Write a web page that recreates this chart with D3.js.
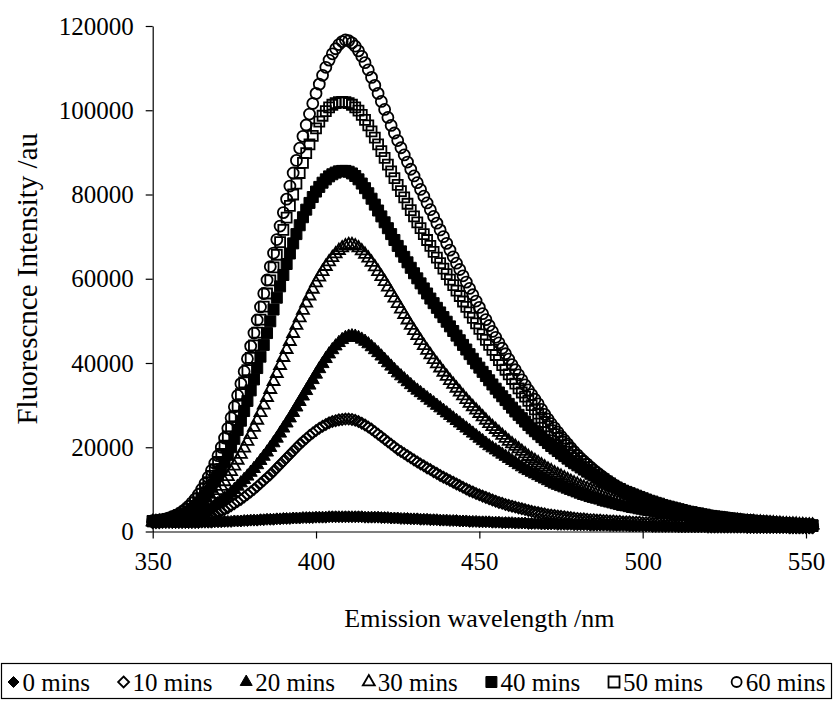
<!DOCTYPE html>
<html>
<head>
<meta charset="utf-8">
<script src="https://cdn.jsdelivr.net/npm/d3@7"></script>
<style>
  html, body { margin: 0; padding: 0; background: #fff; }
  svg { display: block; font-family: "Liberation Serif", "Times New Roman", serif; }
</style>
</head>
<body>
<div id="chart"></div>
<script>
// ── DATA ─────────────────────────────────────
// emission scans, 1 nm steps from 350 to 552 nm
const wavelengths = d3.range(350, 553);

// intensities in thousands of au, one value per nm
const int0 = [
  2.4, 2.3, 2.3, 2.2, 2.2, 2.2, 2.1, 2.1, 2.1, 2.1,
  2.1, 2.1, 2.1, 2.1, 2.1, 2.2, 2.2, 2.2, 2.2, 2.3,
  2.3, 2.3, 2.4, 2.4, 2.4, 2.5, 2.5, 2.5, 2.6, 2.6,
  2.7, 2.7, 2.7, 2.8, 2.8, 2.9, 2.9, 2.9, 3.0, 3.0,
  3.1, 3.1, 3.1, 3.2, 3.2, 3.2, 3.3, 3.3, 3.3, 3.3,
  3.4, 3.4, 3.4, 3.4, 3.5, 3.5, 3.5, 3.5, 3.5, 3.5,
  3.5, 3.5, 3.5, 3.5, 3.5, 3.4, 3.4, 3.4, 3.4, 3.4,
  3.3, 3.3, 3.3, 3.2, 3.2, 3.2, 3.1, 3.1, 3.1, 3.0,
  3.0, 3.0, 2.9, 2.9, 2.9, 2.8, 2.8, 2.8, 2.7, 2.7,
  2.7, 2.6, 2.6, 2.6, 2.5, 2.5, 2.5, 2.4, 2.4, 2.4,
  2.3, 2.3, 2.3, 2.3, 2.2, 2.2, 2.2, 2.1, 2.1, 2.1,
  2.1, 2.0, 2.0, 2.0, 2.0, 1.9, 1.9, 1.9, 1.9, 1.8,
  1.8, 1.8, 1.8, 1.8, 1.7, 1.7, 1.7, 1.7, 1.7, 1.6,
  1.6, 1.6, 1.6, 1.6, 1.5, 1.5, 1.5, 1.5, 1.5, 1.5,
  1.4, 1.4, 1.4, 1.4, 1.4, 1.4, 1.3, 1.3, 1.3, 1.3,
  1.3, 1.3, 1.3, 1.2, 1.2, 1.2, 1.2, 1.2, 1.2, 1.2,
  1.2, 1.1, 1.1, 1.1, 1.1, 1.1, 1.1, 1.1, 1.1, 1.1,
  1.0, 1.0, 1.0, 1.0, 1.0, 1.0, 1.0, 1.0, 1.0, 1.0,
  1.0, 1.0, 0.9, 0.9, 0.9, 0.9, 0.9, 0.9, 0.9, 0.9,
  0.9, 0.9, 0.9, 0.9, 0.9, 0.8, 0.8, 0.8, 0.8, 0.8,
  0.8, 0.8, 0.8
];

const int10 = [
  2.1, 2.1, 2.1, 2.2, 2.2, 2.2, 2.3, 2.3, 2.4, 2.4,
  2.5, 2.6, 2.7, 2.8, 2.9, 3.1, 3.3, 3.5, 3.8, 4.1,
  4.4, 4.8, 5.2, 5.6, 6.1, 6.6, 7.1, 7.6, 8.2, 8.8,
  9.4, 10.0, 10.7, 11.4, 12.1, 12.8, 13.5, 14.3, 15.1, 15.9,
  16.7, 17.5, 18.3, 19.1, 19.9, 20.7, 21.4, 22.1, 22.8, 23.4,
  24.0, 24.5, 25.0, 25.4, 25.8, 26.1, 26.3, 26.5, 26.6, 26.7,
  26.7, 26.6, 26.4, 26.1, 25.7, 25.3, 24.8, 24.3, 23.7, 23.1,
  22.5, 21.9, 21.3, 20.7, 20.1, 19.5, 19.0, 18.5, 18.0, 17.5,
  17.0, 16.5, 16.0, 15.6, 15.1, 14.7, 14.2, 13.8, 13.3, 12.9,
  12.5, 12.1, 11.7, 11.3, 10.9, 10.5, 10.1, 9.7, 9.4, 9.0,
  8.7, 8.4, 8.1, 7.8, 7.5, 7.2, 6.9, 6.7, 6.4, 6.2,
  6.0, 5.8, 5.6, 5.4, 5.2, 5.0, 4.8, 4.6, 4.5, 4.3,
  4.2, 4.0, 3.9, 3.8, 3.7, 3.6, 3.5, 3.4, 3.3, 3.2,
  3.1, 3.0, 3.0, 2.9, 2.8, 2.8, 2.7, 2.7, 2.6, 2.6,
  2.5, 2.5, 2.4, 2.4, 2.3, 2.3, 2.3, 2.2, 2.2, 2.2,
  2.1, 2.1, 2.1, 2.0, 2.0, 2.0, 1.9, 1.9, 1.9, 1.9,
  1.8, 1.8, 1.8, 1.8, 1.7, 1.7, 1.7, 1.7, 1.6, 1.6,
  1.6, 1.6, 1.6, 1.5, 1.5, 1.5, 1.5, 1.5, 1.4, 1.4,
  1.4, 1.4, 1.4, 1.4, 1.3, 1.3, 1.3, 1.3, 1.3, 1.3,
  1.3, 1.2, 1.2, 1.2, 1.2, 1.2, 1.2, 1.2, 1.2, 1.1,
  1.1, 1.1, 1.1
];

const int20 = [
  2.2, 2.2, 2.3, 2.3, 2.4, 2.4, 2.5, 2.6, 2.7, 2.8,
  3.0, 3.2, 3.4, 3.7, 4.0, 4.3, 4.7, 5.1, 5.6, 6.1,
  6.6, 7.2, 7.8, 8.5, 9.2, 9.9, 10.7, 11.5, 12.3, 13.1,
  14.0, 14.9, 15.8, 16.8, 17.8, 18.8, 19.9, 21.0, 22.1, 23.3,
  24.5, 25.7, 26.9, 28.2, 29.5, 30.8, 32.1, 33.4, 34.7, 36.0,
  37.3, 38.6, 39.8, 41.0, 42.1, 43.1, 44.0, 44.8, 45.5, 46.0,
  46.3, 46.4, 46.3, 46.0, 45.6, 45.1, 44.5, 43.8, 43.1, 42.4,
  41.6, 40.8, 40.0, 39.2, 38.4, 37.6, 36.9, 36.2, 35.5, 34.8,
  34.1, 33.5, 32.9, 32.3, 31.7, 31.1, 30.5, 29.9, 29.3, 28.7,
  28.1, 27.5, 26.9, 26.3, 25.7, 25.1, 24.5, 23.9, 23.3, 22.7,
  22.1, 21.5, 20.9, 20.3, 19.8, 19.3, 18.8, 18.3, 17.8, 17.3,
  16.8, 16.3, 15.8, 15.3, 14.8, 14.4, 14.0, 13.6, 13.2, 12.8,
  12.4, 12.0, 11.6, 11.2, 10.9, 10.6, 10.3, 10.0, 9.7, 9.4,
  9.1, 8.8, 8.5, 8.3, 8.0, 7.8, 7.6, 7.4, 7.1, 6.9,
  6.7, 6.5, 6.3, 6.1, 5.9, 5.8, 5.6, 5.4, 5.3, 5.1,
  5.0, 4.8, 4.7, 4.6, 4.4, 4.3, 4.2, 4.1, 4.0, 3.9,
  3.8, 3.7, 3.6, 3.5, 3.4, 3.3, 3.3, 3.2, 3.1, 3.0,
  3.0, 2.9, 2.8, 2.8, 2.7, 2.7, 2.6, 2.5, 2.5, 2.4,
  2.4, 2.3, 2.3, 2.2, 2.2, 2.1, 2.1, 2.0, 2.0, 2.0,
  1.9, 1.9, 1.8, 1.8, 1.8, 1.7, 1.7, 1.6, 1.6, 1.6,
  1.5, 1.5, 1.5
];

const int30 = [
  2.3, 2.3, 2.4, 2.4, 2.5, 2.6, 2.7, 2.9, 3.1, 3.3,
  3.6, 3.9, 4.3, 4.7, 5.2, 5.8, 6.4, 7.1, 7.9, 8.8,
  9.7, 10.7, 11.8, 13.0, 14.2, 15.5, 16.9, 18.3, 19.8, 21.4,
  23.0, 24.7, 26.4, 28.2, 30.0, 31.8, 33.7, 35.6, 37.5, 39.4,
  41.3, 43.2, 45.1, 47.0, 48.9, 50.7, 52.5, 54.2, 55.9, 57.5,
  59.0, 60.4, 61.7, 62.9, 64.0, 65.0, 65.9, 66.7, 67.3, 67.8,
  68.1, 68.1, 67.8, 67.3, 66.6, 65.8, 64.9, 63.9, 62.8, 61.7,
  60.5, 59.3, 58.0, 56.7, 55.4, 54.1, 52.8, 51.5, 50.2, 48.9,
  47.7, 46.5, 45.3, 44.1, 43.0, 41.9, 40.8, 39.8, 38.8, 37.8,
  36.8, 35.8, 34.9, 34.0, 33.1, 32.2, 31.3, 30.4, 29.6, 28.8,
  28.0, 27.2, 26.4, 25.6, 24.9, 24.2, 23.5, 22.8, 22.1, 21.4,
  20.8, 20.2, 19.6, 19.0, 18.4, 17.8, 17.3, 16.8, 16.3, 15.8,
  15.3, 14.8, 14.4, 13.9, 13.5, 13.1, 12.7, 12.3, 11.9, 11.5,
  11.2, 10.8, 10.5, 10.2, 9.9, 9.6, 9.3, 9.0, 8.7, 8.4,
  8.2, 7.9, 7.7, 7.4, 7.2, 7.0, 6.8, 6.6, 6.4, 6.2,
  6.0, 5.8, 5.6, 5.5, 5.3, 5.1, 5.0, 4.8, 4.7, 4.5,
  4.4, 4.3, 4.1, 4.0, 3.9, 3.8, 3.7, 3.6, 3.5, 3.4,
  3.3, 3.2, 3.1, 3.0, 2.9, 2.9, 2.8, 2.7, 2.6, 2.6,
  2.5, 2.4, 2.4, 2.3, 2.3, 2.2, 2.2, 2.1, 2.1, 2.0,
  2.0, 1.9, 1.9, 1.8, 1.8, 1.7, 1.7, 1.7, 1.6, 1.6,
  1.5, 1.5, 1.5
];

const int40 = [
  2.4, 2.4, 2.5, 2.6, 2.7, 2.8, 3.0, 3.2, 3.5, 3.8,
  4.2, 4.7, 5.2, 5.9, 6.6, 7.4, 8.4, 9.4, 10.6, 11.9,
  13.3, 14.8, 16.4, 18.2, 20.0, 22.0, 24.1, 26.3, 28.6, 31.0,
  33.5, 36.1, 38.8, 41.5, 44.3, 47.1, 49.9, 52.7, 55.5, 58.2,
  60.9, 63.5, 66.0, 68.4, 70.6, 72.7, 74.6, 76.4, 78.0, 79.4,
  80.7, 81.8, 82.8, 83.6, 84.3, 84.8, 85.2, 85.5, 85.6, 85.6,
  85.4, 85.0, 84.4, 83.6, 82.6, 81.5, 80.3, 79.0, 77.6, 76.2,
  74.8, 73.4, 72.0, 70.6, 69.2, 67.8, 66.5, 65.2, 63.9, 62.6,
  61.3, 60.1, 58.9, 57.7, 56.5, 55.3, 54.2, 53.1, 52.0, 50.9,
  49.8, 48.7, 47.6, 46.5, 45.4, 44.3, 43.2, 42.1, 41.0, 39.9,
  38.9, 37.9, 36.9, 35.9, 34.9, 33.9, 33.0, 32.1, 31.2, 30.3,
  29.4, 28.5, 27.7, 26.9, 26.1, 25.3, 24.5, 23.8, 23.1, 22.4,
  21.7, 21.0, 20.3, 19.7, 19.1, 18.5, 17.9, 17.3, 16.7, 16.2,
  15.7, 15.2, 14.7, 14.2, 13.7, 13.3, 12.8, 12.4, 12.0, 11.6,
  11.2, 10.8, 10.4, 10.1, 9.7, 9.4, 9.1, 8.8, 8.5, 8.2,
  7.9, 7.6, 7.3, 7.1, 6.8, 6.6, 6.3, 6.1, 5.9, 5.7,
  5.5, 5.3, 5.1, 4.9, 4.7, 4.6, 4.4, 4.3, 4.1, 4.0,
  3.8, 3.7, 3.6, 3.5, 3.4, 3.3, 3.2, 3.1, 3.0, 2.9,
  2.8, 2.7, 2.7, 2.6, 2.5, 2.4, 2.4, 2.3, 2.3, 2.2,
  2.1, 2.1, 2.0, 2.0, 1.9, 1.9, 1.8, 1.8, 1.7, 1.7,
  1.6, 1.6, 1.5
];

const int50 = [
  2.5, 2.5, 2.6, 2.7, 2.8, 3.0, 3.2, 3.5, 3.9, 4.3,
  4.8, 5.4, 6.1, 6.9, 7.9, 9.0, 10.3, 11.7, 13.2, 14.8,
  16.5, 18.4, 20.4, 22.6, 24.9, 27.3, 29.9, 32.6, 35.4, 38.3,
  41.2, 44.2, 47.2, 50.3, 53.4, 56.5, 59.6, 62.7, 65.7, 68.7,
  71.6, 74.5, 77.3, 80.0, 82.6, 85.1, 87.5, 89.8, 91.9, 93.9,
  95.7, 97.3, 98.7, 99.8, 100.7, 101.3, 101.7, 101.9, 102.0, 101.9,
  101.7, 101.3, 100.7, 99.9, 98.9, 97.7, 96.4, 95.0, 93.5, 91.9,
  90.3, 88.7, 87.1, 85.5, 83.9, 82.3, 80.8, 79.3, 77.8, 76.3,
  74.8, 73.4, 72.0, 70.6, 69.2, 67.8, 66.4, 65.0, 63.7, 62.4,
  61.1, 59.8, 58.5, 57.2, 55.9, 54.6, 53.3, 52.0, 50.7, 49.4,
  48.1, 46.8, 45.5, 44.3, 43.1, 41.9, 40.7, 39.5, 38.4, 37.3,
  36.2, 35.1, 34.0, 33.0, 32.0, 31.0, 30.0, 29.0, 28.0, 27.0,
  26.0, 25.0, 24.0, 23.1, 22.2, 21.3, 20.5, 19.7, 18.9, 18.1,
  17.4, 16.7, 16.0, 15.3, 14.7, 14.1, 13.5, 12.9, 12.4, 11.9,
  11.4, 10.9, 10.4, 10.0, 9.6, 9.2, 8.8, 8.4, 8.1, 7.8,
  7.5, 7.2, 6.9, 6.6, 6.3, 6.1, 5.8, 5.6, 5.4, 5.2,
  5.0, 4.8, 4.6, 4.5, 4.3, 4.2, 4.0, 3.9, 3.8, 3.6,
  3.5, 3.4, 3.3, 3.2, 3.1, 3.0, 2.9, 2.8, 2.7, 2.6,
  2.5, 2.4, 2.4, 2.3, 2.2, 2.1, 2.1, 2.0, 2.0, 1.9,
  1.8, 1.8, 1.7, 1.7, 1.6, 1.6, 1.5, 1.5, 1.4, 1.4,
  1.4, 1.3, 1.3
];

const int60 = [
  2.6, 2.6, 2.7, 2.8, 3.0, 3.2, 3.5, 3.8, 4.2, 4.7,
  5.3, 6.0, 6.8, 7.7, 8.8, 10.0, 11.4, 12.9, 14.5, 16.2,
  18.0, 20.0, 22.2, 24.5, 27.0, 29.6, 32.3, 35.1, 38.0, 41.0,
  44.0, 47.1, 50.2, 53.3, 56.5, 59.7, 62.9, 66.1, 69.3, 72.5,
  75.7, 78.9, 82.0, 85.1, 88.1, 91.0, 93.8, 96.5, 99.1, 101.6,
  104.0, 106.2, 108.3, 110.2, 111.9, 113.4, 114.6, 115.6, 116.3, 116.7,
  116.5, 116.0, 115.2, 114.1, 112.8, 111.3, 109.6, 107.8, 105.9, 104.0,
  102.1, 100.2, 98.3, 96.4, 94.6, 92.8, 91.1, 89.4, 87.7, 86.0,
  84.4, 82.8, 81.2, 79.6, 78.0, 76.4, 74.8, 73.2, 71.6, 70.0,
  68.4, 66.8, 65.2, 63.7, 62.2, 60.7, 59.2, 57.7, 56.2, 54.7,
  53.2, 51.7, 50.3, 48.9, 47.5, 46.1, 44.8, 43.5, 42.2, 40.9,
  39.6, 38.4, 37.2, 36.0, 34.8, 33.6, 32.5, 31.4, 30.3, 29.0,
  27.8, 26.7, 25.6, 24.6, 23.6, 22.6, 21.7, 20.8, 19.9, 19.0,
  18.2, 17.4, 16.7, 16.0, 15.3, 14.6, 14.0, 13.4, 12.8, 12.2,
  11.7, 11.2, 10.7, 10.2, 9.8, 9.4, 9.0, 8.6, 8.2, 7.9,
  7.6, 7.3, 7.0, 6.7, 6.4, 6.2, 5.9, 5.7, 5.5, 5.3,
  5.1, 4.9, 4.7, 4.5, 4.4, 4.2, 4.1, 3.9, 3.8, 3.7,
  3.5, 3.4, 3.3, 3.2, 3.1, 3.0, 2.9, 2.8, 2.7, 2.6,
  2.5, 2.5, 2.4, 2.3, 2.2, 2.2, 2.1, 2.0, 2.0, 1.9,
  1.9, 1.8, 1.8, 1.7, 1.7, 1.6, 1.6, 1.5, 1.5, 1.4,
  1.4, 1.3, 1.3
];

const seriesNames = ['0 mins', '10 mins', '20 mins', '30 mins', '40 mins', '50 mins', '60 mins'];
const seriesValues = [int0, int10, int20, int30, int40, int50, int60];
const seriesMarkers = ['diamondFilled', 'diamond', 'triangleFilled', 'triangle', 'squareFilled', 'square', 'circle'];

const xTicks = [350, 400, 450, 500, 550];
const yTicks = [0, 20000, 40000, 60000, 80000, 100000, 120000];

// ── MARKERS ──────────────────────────────────
function markerPath(kind, s) {
  // s = nominal marker width in px
  const h = s / 2;
  if (kind.startsWith('diamond')) return `M0,${-h}L${h},0L0,${h}L${-h},0Z`;
  if (kind.startsWith('triangle')) {
    const th = s * 0.866;
    return `M0,${-th * 2 / 3}L${h},${th / 3}L${-h},${th / 3}Z`;
  }
  return `M${-h},${-h}H${h}V${h}H${-h}Z`;
}

const MARKER_SIZE = {
  diamondFilled: 12, diamond: 11, triangleFilled: 13, triangle: 12,
  squareFilled: 11, square: 10, circle: 11
};

function styleMarker(sel, kind, sw) {
  const filled = kind.endsWith('Filled');
  sel.attr('fill', filled ? '#000' : 'none')
    .attr('stroke', '#000')
    .attr('stroke-width', filled ? 1 : (sw || 1.8))
    .attr('stroke-linejoin', 'miter');
}

// ── CHART ────────────────────────────────────
const W = 835, H = 702;
const plot = { left: 152.7, right: 806, top: 26, bottom: 531.5 };

const svg = d3.select('#chart').append('svg')
  .attr('width', W)
  .attr('height', H)
  .attr('viewBox', `0 0 ${W} ${H}`);

const x = d3.scaleLinear().domain([350, 550]).range([plot.left, plot.right]);
const y = d3.scaleLinear().domain([0, 120000]).range([plot.bottom, plot.top]);

// axes
const yAxis = svg.append('g')
  .attr('transform', `translate(${plot.left},0)`)
  .call(d3.axisLeft(y).tickValues(yTicks).tickFormat(d3.format('d'))
    .tickSize(7).tickPadding(12).tickSizeOuter(0));

const xAxis = svg.append('g')
  .attr('transform', `translate(0,${plot.bottom})`)
  .call(d3.axisBottom(x).tickValues(xTicks).tickFormat(d3.format('d'))
    .tickSize(7).tickPadding(14).tickSizeOuter(0));

[xAxis, yAxis].forEach(a => {
  a.select('.domain').attr('stroke', '#000').attr('stroke-width', 1.2);
  a.selectAll('.tick line').attr('stroke', '#000').attr('stroke-width', 1.2);
  a.selectAll('.tick text')
    .attr('fill', '#000')
    .attr('font-family', '"Liberation Serif", serif')
    .attr('font-size', 25);
});

// series, drawn in order so 60 mins ends on top
seriesValues.forEach((vals, i) => {
  const kind = seriesMarkers[i];
  const pts = wavelengths.map((wl, j) => ({ wl, v: vals[j] * 1000 }));
  const d = markerPath(kind, MARKER_SIZE[kind]);

  const g = svg.append('g').attr('class', 'series s' + i);
  const marks = g.selectAll('.m')
    .data(pts)
    .enter()
    .append(kind === 'circle' ? 'circle' : 'path')
    .attr('class', 'm')
    .attr('transform', p => `translate(${x(p.wl)},${y(p.v)})`);

  if (kind === 'circle') marks.attr('r', MARKER_SIZE.circle / 2);
  else marks.attr('d', d);
  styleMarker(marks, kind);
});

// axis titles
svg.append('text')
  .attr('x', (plot.left + plot.right) / 2)
  .attr('y', 627)
  .attr('text-anchor', 'middle')
  .attr('fill', '#000')
  .attr('font-size', 26)
  .text('Emission wavelength /nm');

svg.append('text')
  .attr('transform', `translate(27,${(plot.top + plot.bottom) / 2}) rotate(-90)`)
  .attr('text-anchor', 'middle')
  .attr('dominant-baseline', 'central')
  .attr('fill', '#000')
  .attr('font-size', 29)
  .text('Fluorescnce Intensity /au');

// ── LEGEND ───────────────────────────────────
const legend = { x: 1.5, y: 663.5, w: 830, h: 35, pad: 6, fontSize: 25 };

const lg = svg.append('g');
lg.append('rect')
  .attr('x', legend.x).attr('y', legend.y)
  .attr('width', legend.w).attr('height', legend.h)
  .attr('fill', '#fff').attr('stroke', '#000').attr('stroke-width', 1.2);

const items = lg.selectAll('g.item')
  .data(seriesNames)
  .enter()
  .append('g')
  .attr('class', 'item');

items.append('text')
  .attr('font-size', legend.fontSize)
  .attr('fill', '#000')
  .attr('dominant-baseline', 'central')
  .text(d => d);

const widths = [];
items.select('text').each(function () { widths.push(this.getComputedTextLength()); });

const markW = 15;
const totalW = d3.sum(widths) + markW * widths.length;
const gap = (legend.w - 2 * legend.pad - totalW) / (widths.length - 1);

let cx = legend.x + legend.pad;
const cy = legend.y + legend.h / 2 + 1;
items.each(function (name, i) {
  const item = d3.select(this);
  const kind = seriesMarkers[i];
  item.attr('transform', `translate(${cx},${cy})`);
  item.select('text').attr('x', markW);
  const m = item.insert(kind === 'circle' ? 'circle' : 'path', 'text')
    .attr('transform', 'translate(6,0)');
  if (kind === 'circle') m.attr('r', 5);
  else m.attr('d', markerPath(kind, kind.startsWith('triangle') ? 12 : 11));
  styleMarker(m, kind, 1.8);
  cx += markW + widths[i] + gap;
});
</script>
</body>
</html>
